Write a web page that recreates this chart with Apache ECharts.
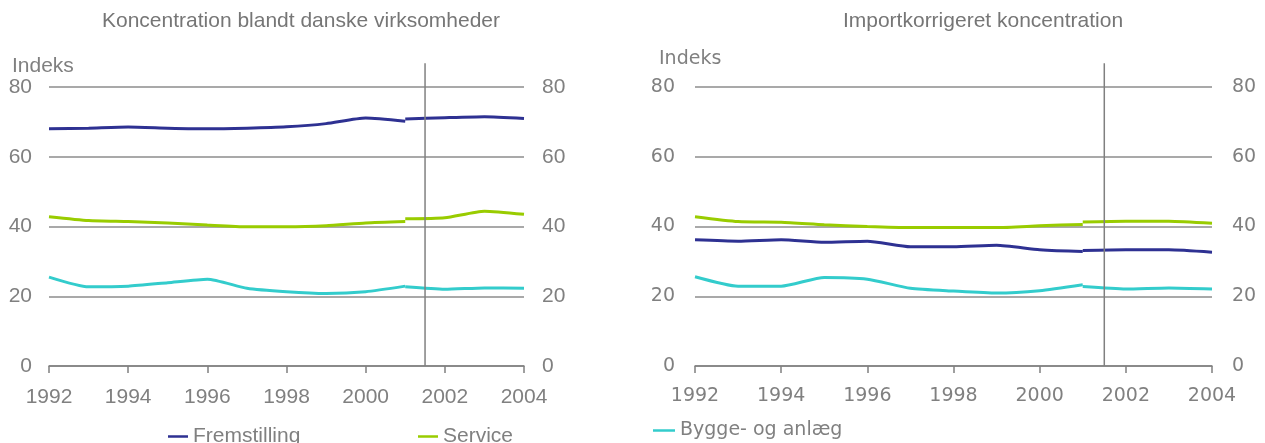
<!DOCTYPE html>
<html><head><meta charset="utf-8">
<script src="https://cdn.jsdelivr.net/npm/echarts@6/dist/echarts.min.js"></script>
<style>html,body{margin:0;padding:0;background:#fff}#c{width:1265px;height:443px}</style>
</head><body><div id="c"></div>
<script>
const years = [1992,1993,1994,1995,1996,1997,1998,1999,2000,2001,2002,2003,2004];
const yearsOld = years.slice(0,10);      // 1992-2001
const yearsNew = years.slice(9);         // 2001-2004
const breakYear = 2001.5;
const yTicks = [0,20,40,60,80];

// Left: Koncentration blandt danske virksomheder
const fremLeftOld = [68.0,68.2,68.5,68.2,68.0,68.2,68.6,69.5,71.1,70.2];
const fremLeftNew = [70.8,71.2,71.5,71.0];
const servLeftOld = [42.8,41.7,41.4,41.0,40.4,39.9,39.9,40.2,41.0,41.4];
const servLeftNew = [42.2,42.5,44.4,43.5];
const byggLeftOld = [25.5,22.7,22.9,23.9,24.9,22.3,21.3,20.8,21.3,22.9];
const byggLeftNew = [22.7,22.0,22.4,22.3];

// Right: Importkorrigeret koncentration
const fremRightOld = [36.2,35.8,36.2,35.5,35.8,34.2,34.2,34.6,33.3,32.8];
const fremRightNew = [33.1,33.3,33.3,32.6];
const servRightOld = [42.8,41.4,41.2,40.5,40.0,39.7,39.7,39.7,40.2,40.6];
const servRightNew = [41.3,41.5,41.5,40.9];
const byggRightOld = [25.6,22.9,22.9,25.4,24.9,22.3,21.5,20.9,21.6,23.3];
const byggRightNew = [22.8,22.1,22.4,22.1];

const names = ['Fremstilling','Service','Bygge- og anlæg'];
const colors = ['#2E3192','#99CC00','#33CCCC'];
const titles = ['Koncentration blandt danske virksomheder','Importkorrigeret koncentration'];

const GRAY = '#808080';
const FONT_L = '"Liberation Sans", Arial, sans-serif';
const FONT_R = '"DejaVu Sans", sans-serif';

function pairs(xs, ys){ return xs.map((x,i)=>[x, ys[i]]); }

const chart = echarts.init(document.getElementById('c'));

const grids = [
  {left:49, right:741, top:87, bottom:77},
  {left:695, right:53, top:87, bottom:77}
];
const fs = [21, 19];
const ff = [FONT_L, FONT_R];

const xAxes = grids.map((g,i)=>({
  type:'value', gridIndex:i, min:years[0], max:years[years.length-1], interval:2,
  axisLine:{show:true, onZero:false, lineStyle:{color:GRAY, width:1.5}},
  axisTick:{show:true, length:7, lineStyle:{color:GRAY, width:1.5}},
  axisLabel:{color:GRAY, fontSize:fs[i], fontFamily:ff[i], margin:21, formatter:v=>String(v)},
  splitLine:{show:false}
}));

const yAxes = [];
grids.forEach((g,i)=>{
  yAxes.push({type:'value', gridIndex:i, position:'left', min:yTicks[0], max:yTicks[yTicks.length-1], interval:20,
    axisLine:{show:false}, axisTick:{show:false},
    axisLabel:{color:GRAY, fontSize:fs[i], fontFamily:ff[i], margin:i===0?17:20},
    splitLine:{show:true, lineStyle:{color:'#8c8c8c', width:1.5}}});
  yAxes.push({type:'value', gridIndex:i, position:'right', min:yTicks[0], max:yTicks[yTicks.length-1], interval:20,
    axisLine:{show:false}, axisTick:{show:false},
    axisLabel:{color:GRAY, fontSize:fs[i], fontFamily:ff[i], margin:i===0?18:20},
    splitLine:{show:false}});
});

const dataSets = [
  [[fremLeftOld,fremLeftNew],[servLeftOld,servLeftNew],[byggLeftOld,byggLeftNew]],
  [[fremRightOld,fremRightNew],[servRightOld,servRightNew],[byggRightOld,byggRightNew]]
];

const series = [];
dataSets.forEach((set,gi)=>{
  set.forEach((s,k)=>{
    [[yearsOld,s[0]],[yearsNew,s[1]]].forEach(([xs,ys])=>{
      series.push({type:'line', name:names[k], xAxisIndex:gi, yAxisIndex:gi*2,
        data:pairs(xs,ys), showSymbol:false, symbol:'none', smooth:0.2,
        lineStyle:{color:colors[k], width:3}, itemStyle:{color:colors[k]}, z:3+k, animation:false});
    });
  });
});

const legendBase = {orient:'horizontal', icon:'rect', itemWidth:20, itemHeight:2.5, selectedMode:false};

chart.setOption({
  animation:false,
  title:[
    {text:titles[0], left:296, top:6, textAlign:'center', textStyle:{color:'#767676', fontSize:21, fontWeight:'normal', fontFamily:FONT_L}},
    {text:titles[1], left:978, top:6, textAlign:'center', textStyle:{color:'#767676', fontSize:21, fontWeight:'normal', fontFamily:FONT_L}},
    {text:'Indeks', left:7, top:51, textStyle:{color:GRAY, fontSize:21, fontWeight:'normal', fontFamily:FONT_L}},
    {text:'Indeks', left:654, top:45, textStyle:{color:GRAY, fontSize:19, fontWeight:'normal', fontFamily:FONT_R}}
  ],
  grid:grids, xAxis:xAxes, yAxis:yAxes, series:series,
  legend:[
    Object.assign({}, legendBase, {data:[names[0]], left:163, top:421, textStyle:{color:GRAY, fontFamily:FONT_L, fontSize:21}}),
    Object.assign({}, legendBase, {data:[names[1]], left:413, top:421, textStyle:{color:GRAY, fontFamily:FONT_L, fontSize:21}}),
    Object.assign({}, legendBase, {data:[names[2]], left:648, top:416, itemWidth:22, textStyle:{color:GRAY, fontFamily:FONT_R, fontSize:19}})
  ]
});

// vertical break line at 2001.5, extending above plot top
const gfx = [];
[0,1].forEach(gi=>{
  const p0 = chart.convertToPixel({xAxisIndex:gi, yAxisIndex:gi*2}, [breakYear, 0]);
  const p80 = chart.convertToPixel({xAxisIndex:gi, yAxisIndex:gi*2}, [breakYear, 80]);
  const top = p80[1] - (p0[1]-p80[1]) * 0.085;
  gfx.push({type:'line', shape:{x1:p0[0], y1:top, x2:p0[0], y2:p0[1]}, style:{stroke:GRAY, lineWidth:1.5}, z:10});
});
chart.setOption({graphic:gfx});
</script>
</body></html>
